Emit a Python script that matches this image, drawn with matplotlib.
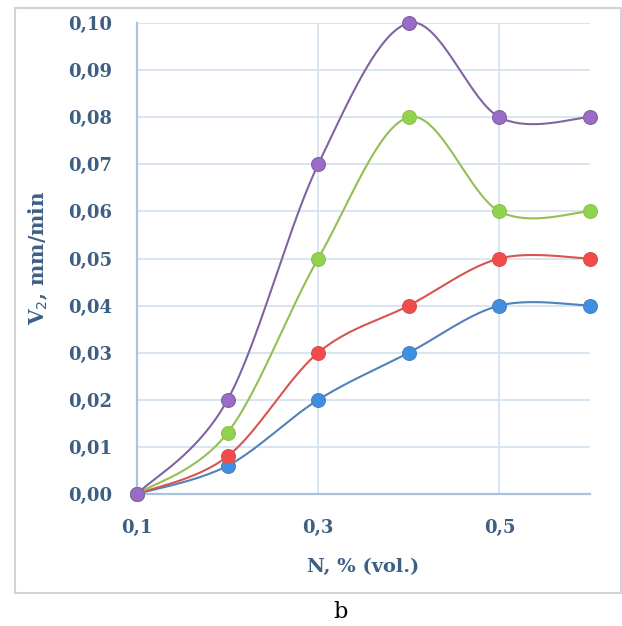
import numpy as np
import matplotlib
matplotlib.use("Agg")
from matplotlib import pyplot as plt
from matplotlib.patches import Rectangle

# DATA
n_vol = [0.1, 0.2, 0.3, 0.4, 0.5, 0.6]
v_blue = [0.000, 0.006, 0.020, 0.030, 0.040, 0.040]
v_red = [0.000, 0.008, 0.030, 0.040, 0.050, 0.050]
v_green = [0.000, 0.013, 0.050, 0.080, 0.060, 0.060]
v_purple = [0.000, 0.020, 0.070, 0.100, 0.080, 0.080]
x_ticks = [0.1, 0.3, 0.5]
x_tick_labels = ["0,1", "0,3", "0,5"]
y_ticks = [i / 100 for i in range(11)]
y_tick_labels = ["0,%02d" % i for i in range(10)] + ["0,10"]


def smooth(xs, ys, steps=40):
    # Excel-like smoothed line (Catmull-Rom bezier through the points)
    xs = np.asarray(xs, float)
    ys = np.asarray(ys, float)
    px = np.concatenate([[xs[0]], xs, [xs[-1]]])
    py = np.concatenate([[ys[0]], ys, [ys[-1]]])
    out_x, out_y = [], []
    t = np.linspace(0, 1, steps)
    for i in range(1, len(px) - 2):
        p0, p1, p2, p3 = [np.array([px[j], py[j]]) for j in (i - 1, i, i + 1, i + 2)]
        c1 = p1 + (p2 - p0) / 6
        c2 = p2 - (p3 - p1) / 6
        b = ((1 - t) ** 3)[:, None] * p1 + (3 * (1 - t) ** 2 * t)[:, None] * c1 \
            + (3 * (1 - t) * t ** 2)[:, None] * c2 + (t ** 3)[:, None] * p2
        out_x.extend(b[:, 0])
        out_y.extend(b[:, 1])
    return out_x, out_y


series = [
    (v_blue, "#4f81bd", "#3f8fe0"),
    (v_red, "#d9534f", "#f24b4b"),
    (v_green, "#93bf55", "#8fd44c"),
    (v_purple, "#8064a2", "#9a6cc8"),
]

text_color = "#3e5f84"
font = "DejaVu Serif"

fig = plt.figure(figsize=(6.22, 6.26), dpi=100)
fig.patches.append(Rectangle((15 / 622, 1 - 593 / 626), 606 / 622, 585 / 626,
                             transform=fig.transFigure, fill=False,
                             edgecolor="#d3d3d3", linewidth=1.5))

ax = fig.add_axes([137 / 622, 1 - 494 / 626, 453 / 622, 471 / 626])
ax.set_xlim(0.1, 0.6)
ax.set_ylim(0, 0.10)

ax.set_yticks(y_ticks)
ax.set_yticklabels(y_tick_labels)
ax.set_xticks(x_ticks)
ax.set_xticklabels(x_tick_labels)
ax.grid(True, color="#d2e1f0", linewidth=1.2)
ax.set_axisbelow(True)
ax.tick_params(length=0, labelsize=13, labelcolor=text_color)
ax.tick_params(axis="y", pad=18)
ax.tick_params(axis="x", pad=18)
for lab in ax.get_xticklabels() + ax.get_yticklabels():
    lab.set_fontfamily(font)
    lab.set_fontweight("bold")

for side in ("top", "right"):
    ax.spines[side].set_visible(False)
for side in ("left", "bottom"):
    ax.spines[side].set_color("#a9c2de")
    ax.spines[side].set_linewidth(1.6)

for vals, line_c, mark_c in series:
    sx, sy = smooth(n_vol, vals)
    ax.plot(sx, sy, color=line_c, linewidth=1.5, clip_on=False, zorder=3)
    ax.plot(n_vol, vals, linestyle="none", marker="o", markersize=10,
            markerfacecolor=mark_c, markeredgecolor=line_c, markeredgewidth=0.8,
            clip_on=False, zorder=4)

ax.set_xlabel("N, % (vol.)", fontfamily=font, fontweight="bold", fontsize=14,
              color=text_color, labelpad=15)
fig.text(38 / 622, 1 - 258 / 626, "V$_2$, mm/min", rotation=90, ha="center", va="center",
         fontfamily=font, fontweight="bold", fontsize=14.5, color=text_color)
fig.text(341 / 622, 1 - 612 / 626, "b", ha="center", va="center",
         fontfamily=font, fontsize=16, color="black")

plt.savefig("out.png", dpi=100)
plt.close()
